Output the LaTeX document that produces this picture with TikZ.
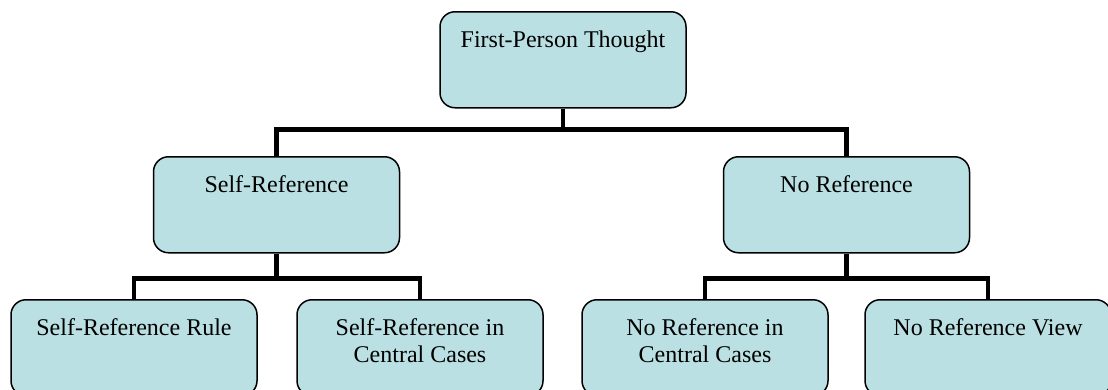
\documentclass[tikz,border=0pt]{standalone}
\usepackage{fontspec}
\setmainfont{Liberation Serif}
\definecolor{boxfill}{RGB}{186,224,227}
\newcommand\bt[1]{\parbox[c][96pt][t]{240pt}{\centering\rule{0pt}{36pt}#1}}
\tikzset{
  box/.style={draw=black, fill=boxfill, rounded corners=15pt, line width=1.5pt,
    minimum width=246pt, minimum height=96pt, inner sep=0pt, anchor=north,
    font=\fontsize{24}{27}\selectfont},
  conn/.style={draw=black, line width=4.5pt}
}
\begin{document}
\begin{tikzpicture}[x=1pt,y=-1pt]
\useasboundingbox (0,0) rectangle (1108,389);
\clip (0,0) rectangle (1108,389);
\node[box] (top) at (563,11) {\bt{First-Person Thought}};
\node[box] (self) at (276.5,156) {\bt{Self-Reference}};
\node[box] (noref) at (846.5,156) {\bt{No Reference}};
\node[box] (srr) at (134,299) {\bt{Self-Reference Rule}};
\node[box] (sricc) at (420,299) {\bt{Self-Reference in\\Central Cases}};
\node[box] (nricc) at (705,299) {\bt{No Reference in\\Central Cases}};
\node[box] (nrv) at (988,299) {\bt{No Reference View}};
\draw[conn] (top.south) -- ++(0,21) coordinate (j1);
\draw[conn] (self.north) |- (j1) -| (noref.north);
\draw[conn] (self.south) -- ++(0,25) coordinate (j2);
\draw[conn] (srr.north) |- (j2) -| (sricc.north);
\draw[conn] (noref.south) -- ++(0,25) coordinate (j3);
\draw[conn] (nricc.north) |- (j3) -| (nrv.north);
\end{tikzpicture}
\end{document}
